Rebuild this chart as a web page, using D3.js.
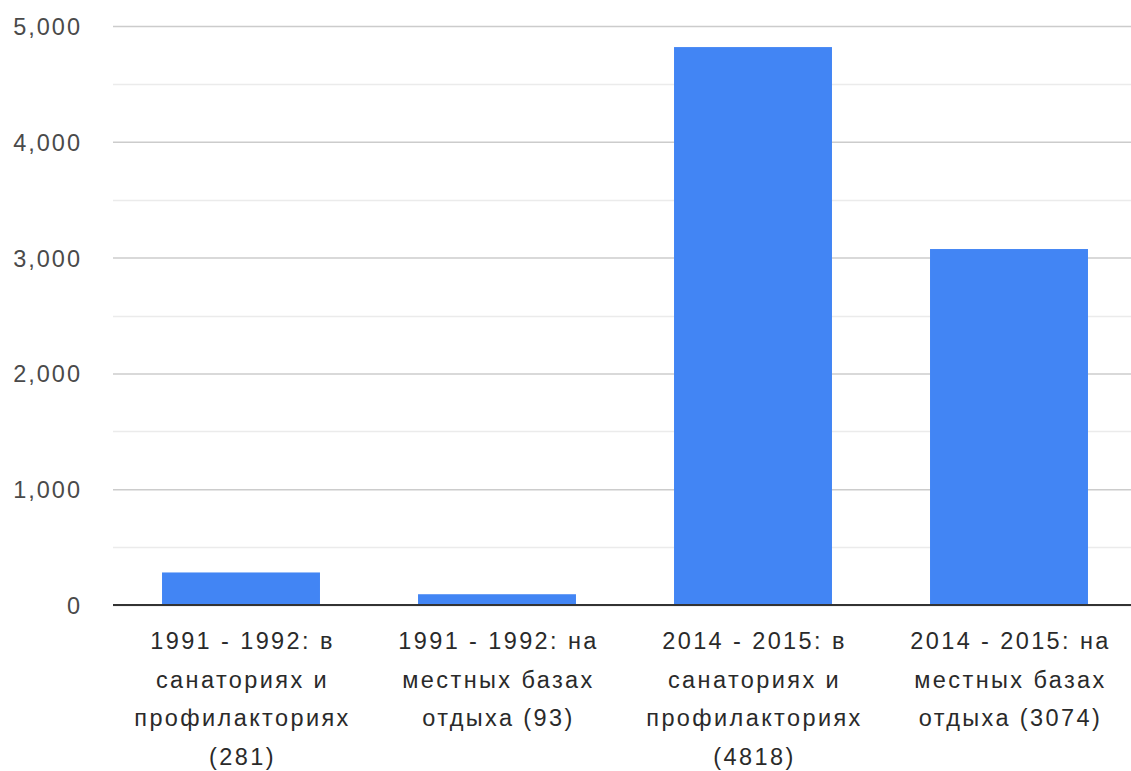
<!DOCTYPE html>
<html>
<head>
<meta charset="utf-8">
<script src="https://cdn.jsdelivr.net/npm/d3@7"></script>
<style>
  body { margin: 0; background: #fff; }
  svg text { font-family: "Liberation Sans", Arial, sans-serif; }
</style>
</head>
<body>
<svg></svg>
<script>
const categories = [
  ['1991 - 1992: в', 'санаториях и', 'профилакториях', '(281)'],
  ['1991 - 1992: на', 'местных базах', 'отдыха (93)'],
  ['2014 - 2015: в', 'санаториях и', 'профилакториях', '(4818)'],
  ['2014 - 2015: на', 'местных базах', 'отдыха (3074)']
];
const values = [281, 93, 4818, 3074];
const yTicks = [0, 1000, 2000, 3000, 4000, 5000];
const minorTicks = [500, 1500, 2500, 3500, 4500];

const width = 1131;
const height = 771;
const margin = { top: 26, right: -6, bottom: 166, left: 113 };

const svg = d3.select('svg')
  .attr('width', width)
  .attr('height', height);

const ids = categories.map((c, i) => i);

const xScale = d3.scaleBand()
  .domain(ids)
  .range([margin.left, width - margin.right])
  .paddingInner(0.383)
  .paddingOuter(0.1915);

const yScale = d3.scaleLinear()
  .domain([0, 5000])
  .range([height - margin.bottom, margin.top]);

// minor gridlines
svg.append('g')
  .selectAll('line')
  .data(minorTicks)
  .enter().append('line')
  .attr('x1', margin.left)
  .attr('x2', width)
  .attr('y1', d => Math.round(yScale(d)) + 0.5)
  .attr('y2', d => Math.round(yScale(d)) + 0.5)
  .attr('stroke', '#ebebeb')
  .attr('stroke-width', 1.5);

// major gridlines + labels
const yAxis = d3.axisLeft(yScale)
  .tickValues(yTicks)
  .tickSize(-(width - margin.left))
  .tickPadding(31)
  .tickFormat(d3.format(','));

svg.append('g')
  .attr('id', 'y-axis')
  .attr('transform', `translate(${margin.left},0)`)
  .call(yAxis)
  .call(g => g.select('.domain').remove())
  .call(g => g.selectAll('.tick line').attr('stroke', '#cccccc').attr('stroke-width', 1.5))
  .call(g => g.selectAll('.tick text')
    .attr('fill', '#4a4a4a')
    .style('font-size', '23.5px')
    .style('letter-spacing', '2px')
    .attr('dy', '0.36em'));

svg.selectAll('.bar')
  .data(values)
  .enter().append('rect')
  .attr('class', 'bar')
  .attr('x', (d, i) => xScale(i))
  .attr('y', d => yScale(d))
  .attr('width', xScale.bandwidth())
  .attr('height', d => yScale(0) - yScale(d))
  .attr('fill', '#4285f4');

// baseline
svg.append('line')
  .attr('x1', margin.left)
  .attr('x2', width)
  .attr('y1', yScale(0))
  .attr('y2', yScale(0))
  .attr('stroke', '#333')
  .attr('stroke-width', 2);

// category labels
const labels = svg.append('g')
  .selectAll('text')
  .data(categories)
  .enter().append('text')
  .attr('text-anchor', 'middle')
  .attr('fill', '#2a2a2a')
  .style('font-size', '23.5px')
  .style('letter-spacing', '2.4px')
  .attr('transform', (d, i) => `translate(${xScale(i) + xScale.bandwidth() / 2 + 1.5},649)`);

labels.selectAll('tspan')
  .data(d => d)
  .enter().append('tspan')
  .attr('x', 0)
  .attr('y', (d, i) => i * 38.5)
  .text(d => d);
</script>
</body>
</html>
